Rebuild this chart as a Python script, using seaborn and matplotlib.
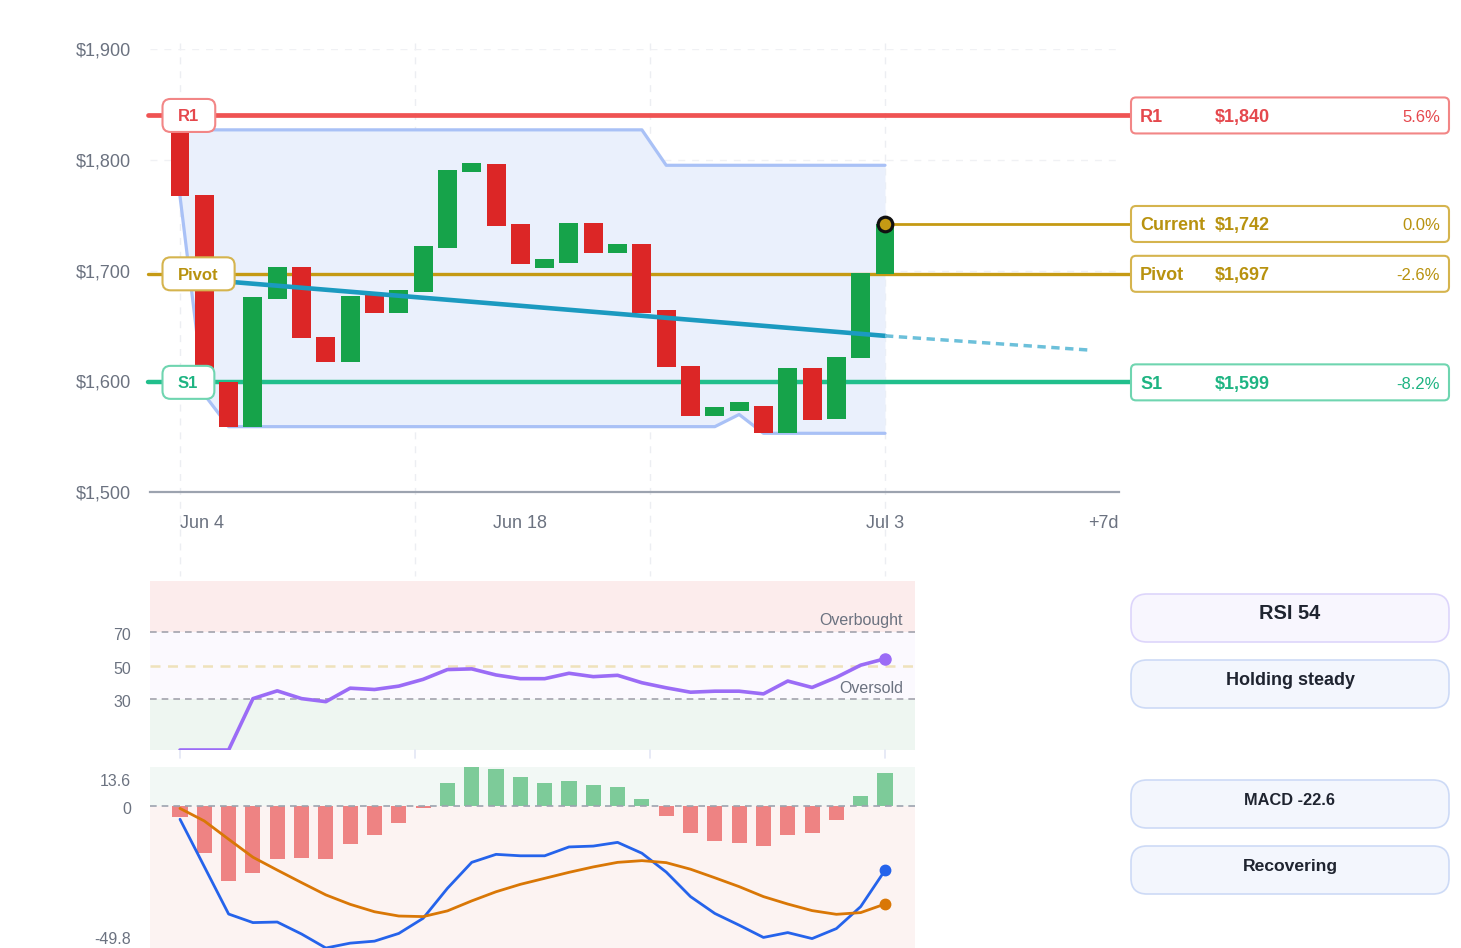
import numpy as np
import pandas as pd
import matplotlib
matplotlib.use("Agg")
import matplotlib.pyplot as plt
import seaborn as sns
from matplotlib.patches import FancyBboxPatch
from matplotlib.transforms import IdentityTransform, blended_transform_factory, ScaledTranslation

# ---------------- data ----------------
opens = [1827, 1768, 1599, 1559, 1674, 1703, 1640, 1617, 1678, 1662,
         1681, 1720, 1789, 1796, 1742, 1702, 1707, 1743, 1716, 1724,
         1664, 1614, 1569, 1573, 1578, 1553, 1612, 1566, 1621, 1697]
closes = [1767, 1588, 1559, 1676, 1703, 1639, 1617, 1677, 1662, 1682,
          1722, 1791, 1797, 1740, 1706, 1710, 1743, 1716, 1724, 1662,
          1613, 1569, 1577, 1581, 1553, 1612, 1565, 1622, 1698, 1742]
upper_band = [1827, 1827, 1827, 1827, 1827, 1827, 1827, 1827, 1827, 1827,
              1827, 1827, 1827, 1827, 1827, 1827, 1827, 1827, 1827, 1827,
              1795, 1795, 1795, 1795, 1795, 1795, 1795, 1795, 1795, 1795]
lower_band = [1767, 1588, 1559, 1559, 1559, 1559, 1559, 1559, 1559, 1559,
              1559, 1559, 1559, 1559, 1559, 1559, 1559, 1559, 1559, 1559,
              1559, 1559, 1559, 1570, 1553, 1553, 1553, 1553, 1553, 1553]
trend_x = [0, 29]
trend_y = [1693.5, 1641]
proj_x = [29, 37.5]
proj_y = [1641, 1628]

level_names = ["R1", "Pivot", "S1"]
level_values = [1840, 1697, 1599]
current_price = 1742

rsi = [0, 0, 0, 30.4, 35, 30.4, 28.6, 36.6, 35.8, 37.8,
       41.8, 47.6, 48, 44.4, 42.2, 42.2, 45.4, 43.4, 44.2, 39.8,
       36.8, 34.2, 34.8, 34.8, 33.2, 40.8, 37, 43, 50.2, 54]
macd = [-4.7, -21.3, -37.9, -40.9, -40.7, -44.9, -49.8, -48.1, -47.4, -44.7,
        -39.4, -28.9, -19.8, -17.0, -17.5, -17.5, -14.4, -14.1, -12.8, -16.6,
        -23.2, -31.8, -37.7, -41.8, -46.1, -44.4, -46.5, -43.0, -35.3, -22.6]
signal = [-0.9, -5.3, -11.7, -18.0, -22.5, -26.9, -31.2, -34.5, -37.1, -38.6,
          -38.8, -36.8, -33.3, -30.1, -27.5, -25.4, -23.3, -21.4, -19.8, -19.2,
          -19.9, -22.2, -25.2, -28.3, -31.8, -34.4, -36.7, -38.0, -37.4, -34.4]
hist = [-3.8, -16.6, -26.2, -23.7, -18.6, -18.4, -18.5, -13.5, -10.3, -6.1,
        -0.7, 7.9, 13.6, 13.0, 10.0, 7.9, 8.7, 7.3, 6.6, 2.3,
        -3.6, -9.6, -12.3, -13.1, -14.1, -10.1, -9.5, -5.1, 3.3, 11.5]

xtick_labels = ["Jun 4", "Jun 18", "Jul 3", "+7d"]
ytick_values = [1500, 1600, 1700, 1800, 1900]
rsi_label = "RSI 54"
rsi_status = "Holding steady"
macd_label = "MACD -22.6"
macd_status = "Recovering"

# ---------------- style ----------------
sns.set_theme(style="white")
plt.rcParams['font.family'] = ['Liberation Sans', 'DejaVu Sans']

W, H = 1461, 948
fig = plt.figure(figsize=(W / 100, H / 100), dpi=100)
fig.patch.set_facecolor("white")

GREY = "#6b7280"
idx = np.arange(len(opens))
step = (885 - 180) / 29.0  # pixels per day

def fig_rect(x0, y0, x1, y1):
    return [x0 / W, 1 - y1 / H, (x1 - x0) / W, (y1 - y0) / H]

ax = fig.add_axes(fig_rect(150, 49, 1119, 492))
ax_rsi = fig.add_axes(fig_rect(150, 581, 915, 750))
ax_macd = fig.add_axes(fig_rect(150, 767, 915, 948))

x_left = (150 - 180) / step
x_right_main = (1119 - 180) / step
x_right_sub = (915 - 180) / step

df = pd.DataFrame({"idx": idx, "open": opens, "close": closes,
                   "upper": upper_band, "lower": lower_band,
                   "rsi": rsi, "macd": macd, "signal": signal, "hist": hist})

# ---------------- main price panel ----------------
ax.set_xlim(x_left, x_right_main)
ax.set_ylim(1500, 1900)
for s in ["top", "right", "left"]:
    ax.spines[s].set_visible(False)
ax.spines["bottom"].set_color("#9ca3af")
ax.spines["bottom"].set_linewidth(1.6)
ax.set_yticks(ytick_values)
ax.set_yticklabels([f"${v:,}" for v in ytick_values])
ax.tick_params(axis="y", length=0, pad=13.5, labelsize=13, labelcolor=GREY)
ax.set_xticks([0, 14, 29, x_right_main])
ax.set_xticklabels(xtick_labels)
ax.tick_params(axis="x", length=0, pad=16.5, labelsize=13, labelcolor=GREY)
xl = ax.get_xticklabels()
xl[0].set_ha("left")
xl[-1].set_ha("right")
ax.grid(axis="y", color="#f0f1f4", linestyle=(0, (5, 5)), linewidth=1)
ax.grid(axis="x", visible=False)

# vertical dashed gridlines
vtrans = blended_transform_factory(ax.transData, ax.transAxes)
for gx in np.linspace(0, 29, 4):
    ax.plot([gx, gx], [1.014, -0.19], transform=vtrans, color="#eceef2",
            linestyle=(0, (5, 5)), lw=1, clip_on=False, zorder=0)

# channel band
ax.fill_between(df["idx"], df["lower"], df["upper"], color="#eaf0fc", lw=0, zorder=1)
sns.lineplot(data=df, x="idx", y="upper", ax=ax, color="#a9c1f6", lw=2.3, zorder=2)
sns.lineplot(data=df, x="idx", y="lower", ax=ax, color="#a9c1f6", lw=2.3, zorder=2)

# level lines
level_style = {
    "R1": dict(line="#ef5353", text="#e5484d", edge="#f28686", lw=3.4),
    "Pivot": dict(line="#c59a14", text="#b8920f", edge="#d5b44e", lw=2.4),
    "S1": dict(line="#21bf8c", text="#1eb482", edge="#6fd5b0", lw=3.2),
    "Current": dict(line="#c59a14", text="#b8920f", edge="#d5b44e", lw=2.0),
}
htrans = blended_transform_factory(ax.transAxes, ax.transData)
box_right_frac = (1131 - 150) / 969
for name, val in zip(level_names, level_values):
    st = level_style[name]
    ax.plot([-0.002, box_right_frac], [val, val], transform=htrans, color=st["line"],
            lw=st["lw"], solid_capstyle="round", clip_on=False, zorder=3)

# candles
colors = ["#16a34a" if c >= o else "#dc2626" for o, c in zip(opens, closes)]
ax.bar(df["idx"], df["close"] - df["open"], bottom=df["open"], width=0.78,
       color=colors, lw=0, zorder=4)

# trend + projection
sns.lineplot(x=trend_x, y=trend_y, ax=ax, color="#1b9ac0", lw=3.3, zorder=5)
ax.plot(proj_x, proj_y, color="#6cc0da", lw=2.5, linestyle=(0, (2.4, 1.6)), zorder=5)

# current line + marker
cur_end = (1131 - 180) / step
ax.plot([29, cur_end], [current_price, current_price], color=level_style["Current"]["line"],
        lw=2.0, clip_on=False, zorder=3)
ax.plot([29], [current_price], "o", ms=10.5, mfc="#c59a14", mec="#111111", mew=2.3,
        zorder=8, clip_on=False)

ax.set_xlabel("")
ax.set_ylabel("")

# ---------------- RSI panel ----------------
ax_rsi.set_xlim(x_left, x_right_sub)
ax_rsi.set_ylim(0, 100)
for s in ax_rsi.spines.values():
    s.set_visible(False)
ax_rsi.axhspan(70, 100, color="#fcecec", lw=0, zorder=0)
ax_rsi.axhspan(30, 70, color="#fbf9fe", lw=0, zorder=0)
ax_rsi.axhspan(0, 30, color="#eef6f1", lw=0, zorder=0)
ax_rsi.axhline(70, color="#a3a3ad", lw=1.2, linestyle=(0, (4, 3)), zorder=1)
ax_rsi.axhline(30, color="#a3a3ad", lw=1.2, linestyle=(0, (4, 3)), zorder=1)
ax_rsi.axhline(50, color="#efe2bb", lw=1.8, linestyle=(0, (4, 3)), zorder=1)
sns.lineplot(data=df, x="idx", y="rsi", ax=ax_rsi, color="#9b6cf6", lw=2.6, zorder=3)
ax_rsi.plot([29], [rsi[-1]], "o", ms=8, color="#9b6cf6", zorder=4)
ax_rsi.set_yticks([70, 50, 30])
ax_rsi.set_yticklabels(["70", "50", "30"])
ax_rsi.tick_params(axis="y", length=0, pad=13.5, labelsize=11.5, labelcolor=GREY)
ml_r = ax_rsi.get_yticklabels()
for lab in ml_r:
    lab.set_transform(lab.get_transform() + ScaledTranslation(0, -1.5 / 72, fig.dpi_scale_trans))
ax_rsi.set_xticks([])
ax_rsi.set_xlabel("")
ax_rsi.set_ylabel("")
ax_rsi.grid(False)
ax_rsi.text(0.984, 76.5, "Overbought", transform=blended_transform_factory(ax_rsi.transAxes, ax_rsi.transData),
            ha="right", va="center", fontsize=11.5, color=GREY)
ax_rsi.text(0.984, 36.5, "Oversold", transform=blended_transform_factory(ax_rsi.transAxes, ax_rsi.transData),
            ha="right", va="center", fontsize=11.5, color=GREY)
rtrans = blended_transform_factory(ax_rsi.transData, ax_rsi.transAxes)
for gx in np.linspace(0, 29, 4):
    ax_rsi.plot([gx, gx], [0, -0.05], transform=rtrans, color="#e3e6f5", lw=1.2, clip_on=False)

# ---------------- MACD panel ----------------
ax_macd.set_xlim(x_left, x_right_sub)
ax_macd.set_ylim(-49.8, 13.6)
for s in ax_macd.spines.values():
    s.set_visible(False)
ax_macd.axhspan(0, 13.6, color="#f2f8f5", lw=0, zorder=0)
ax_macd.axhspan(-49.8, 0, color="#fcf3f2", lw=0, zorder=0)
hist_colors = ["#7dcb99" if h >= 0 else "#ee8383" for h in hist]
ax_macd.bar(df["idx"], df["hist"], width=0.62, color=hist_colors, lw=0, zorder=2)
ax_macd.axhline(0, color="#9ca3af", lw=1.2, linestyle=(0, (4, 3)), zorder=3)
sns.lineplot(data=df, x="idx", y="macd", ax=ax_macd, color="#2563eb", lw=2.0, zorder=4)
sns.lineplot(data=df, x="idx", y="signal", ax=ax_macd, color="#d97706", lw=2.0, zorder=4)
ax_macd.plot([29], [macd[-1]], "o", ms=7.5, color="#2563eb", zorder=5)
ax_macd.plot([29], [signal[-1]], "o", ms=7.5, color="#d97706", zorder=5)
ax_macd.set_yticks([13.6, 0, -49.8])
ax_macd.set_yticklabels(["13.6", "0", "-49.8"])
ax_macd.tick_params(axis="y", length=0, pad=13.5, labelsize=11.5, labelcolor=GREY)
ax_macd.set_xticks([])
ax_macd.set_xlabel("")
ax_macd.set_ylabel("")
ax_macd.grid(False)
ml = ax_macd.get_yticklabels()
ml[0].set_transform(ml[0].get_transform() + ScaledTranslation(0, -9.5 / 72, fig.dpi_scale_trans))
ml[1].set_transform(ml[1].get_transform() + ScaledTranslation(0, -1.5 / 72, fig.dpi_scale_trans))
ml[2].set_transform(ml[2].get_transform() + ScaledTranslation(0, 7.5 / 72, fig.dpi_scale_trans))

# ---------------- boxes & labels (pixel space) ----------------
ident = IdentityTransform()

def box(x0, y0, x1, y1, r, fc, ec, lw=1.5, z=10):
    p = FancyBboxPatch((x0, H - y1), x1 - x0, y1 - y0,
                       boxstyle=f"round,pad=0,rounding_size={r}",
                       transform=ident, fc=fc, ec=ec, lw=lw, zorder=z)
    fig.add_artist(p)

def txt(x, y, s, **kw):
    return fig.text(x, H - y, s, transform=ident, zorder=12, **kw)

def ypix(val):
    return H - ax.transData.transform((0, val))[1]

renderer = fig.canvas.get_renderer()

# left labels on the lines
for name, val in zip(level_names, level_values):
    st = level_style[name]
    yc = ypix(val)
    t = txt(178, yc + 6, name, fontsize=12, fontweight="bold", color=st["text"],
            ha="left", va="baseline")
    bb = t.get_window_extent(renderer=renderer)
    box(162.5, yc - 16.5, bb.x1 + 16, yc + 16.5, 8, "white", st["edge"], lw=1.5, z=11)

# right level boxes
right_levels = [("R1", 1840), ("Current", current_price), ("Pivot", 1697), ("S1", 1599)]
for name, val in right_levels:
    st = level_style[name]
    yc = ypix(val)
    box(1131, yc - 18, 1449, yc + 18, 5, "white", st["edge"], lw=1.5)
    pct = (val - current_price) / current_price * 100
    txt(1140, yc + 6.5, name, fontsize=13, fontweight="bold", color=st["text"], va="baseline")
    txt(1215, yc + 6.5, f"${val:,}", fontsize=13, fontweight="bold", color=st["text"], va="baseline")
    txt(1440, yc + 6.5, f"{pct:.1f}%", fontsize=12, color=st["text"], ha="right", va="baseline")

# indicator pills
pills = [(594, rsi_label, 14.4, "#f8f6fe", "#ddd5fb"),
         (660, rsi_status, 13, "#f3f6fd", "#cddaf6"),
         (780, macd_label, 11.8, "#f3f6fd", "#cddaf6"),
         (846, macd_status, 12.6, "#f3f6fd", "#cddaf6")]
for top, label, fs, fc, ec in pills:
    box(1131, top, 1449, top + 48, 16, fc, ec, lw=1.2)
    txt(1290, top + 25, label, fontsize=fs, fontweight="bold", color="#1f2430",
        ha="center", va="baseline")

fig.savefig("out.png", dpi=100, facecolor="white")
